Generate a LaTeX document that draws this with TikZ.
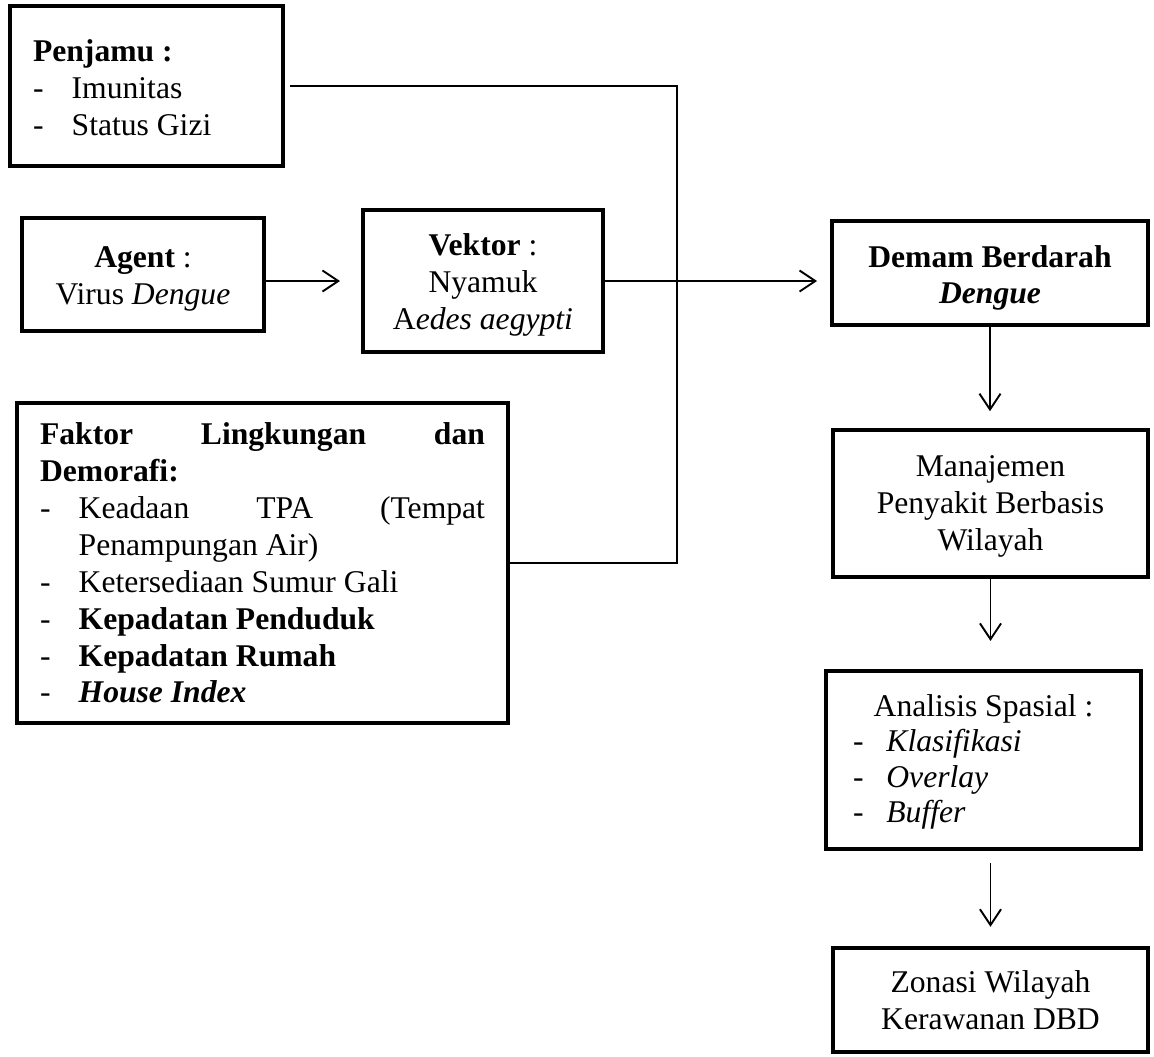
\documentclass[tikz,border=0pt]{standalone}
\usepackage{fontspec}
\setmainfont{Liberation Serif}
\usetikzlibrary{arrows.meta}
\hyphenpenalty=10000
\exhyphenpenalty=10000
\newcommand{\dashitem}[2][22pt]{\par\noindent\hangindent=#1\hangafter=1\makebox[#1][l]{-}#2}

\begin{document}
\begin{tikzpicture}[x=0.02cm, y=-0.02cm,
        box/.style={draw, line width=2.2pt, font=\fontsize{18}{21}\selectfont, inner sep=0pt},
        link/.style={line width=0.9pt},
        flow/.style={line width=1.1pt, -{Straight Barb[length=9pt,width=12pt]}}]
        \useasboundingbox (0,0) rectangle (1154,1056);

        \node[box, minimum width=5.46cm, minimum height=3.2cm, text width=4.54cm, align=flush left, text height=14pt]
            (penjamu) at (146.5,86)
            {\noindent\textbf{Penjamu :}\dashitem{Imunitas}\dashitem{Status Gizi}};
        \node[box, minimum width=4.84cm, minimum height=2.26cm, text width=4.4cm, align=flush center, text height=17.4pt]
            (agent) at (143,274.5) {\textbf{Agent} :\\Virus \textit{Dengue}};
        \node[box, minimum width=4.8cm, minimum height=2.84cm, text width=4.4cm, align=flush center, text height=17.4pt]
            (vektor) at (483,281) {\textbf{Vektor} :\\Nyamuk\\A\textit{edes aegypti}};
        \node[box, minimum width=9.82cm, minimum height=6.4cm, text width=8.9cm, align=justify]
            (faktor) at (262.5,563)
            {\noindent\textbf{Faktor Lingkungan dan Demorafi:}
            \dashitem{Keadaan TPA (Tempat Penampungan Air)}
            \dashitem{Ketersediaan Sumur Gali}
            \dashitem{\textbf{Kepadatan Penduduk}}
            \dashitem{\textbf{Kepadatan Rumah}}
            \dashitem{\textbf{\textit{House Index}}}};

        \node[box, minimum width=6.32cm, minimum height=2.08cm, text width=5.9cm, align=flush center, text height=18pt]
            (demam) at (990,273) {\textbf{Demam Berdarah}\\\textbf{\textit{Dengue}}};
        \node[box, minimum width=6.3cm, minimum height=2.94cm, text width=5.9cm, align=flush center, text height=15.7pt]
            (manajemen) at (990.5,503.5) {Manajemen\\Penyakit Berbasis\\Wilayah};
        \node[box, minimum width=6.3cm, minimum height=3.56cm, text width=5.22cm, align=flush left, text height=14.6pt,
            font=\fontsize{18}{20}\selectfont]
            (analisis) at (983.5,760)
            {\centerline{Analisis Spasial :}\dashitem[19pt]{\textit{Klasifikasi}}\dashitem[19pt]{\textit{Overlay}}\dashitem[19pt]{\textit{Buffer}}};
        \node[box, minimum width=6.3cm, minimum height=2.08cm, text width=5.9cm, align=flush center]
            (zonasi) at (990.5,1000) {Zonasi Wilayah\\Kerawanan DBD};

        \coordinate (bend) at (677,563);
        \draw[link, shorten <=3pt] (penjamu.east) -| (bend) -- (faktor.east);

        \draw[flow, shorten >=12pt] (agent.east |- vektor.west) -- (vektor.west);
        \draw[flow, shorten >=7.4pt] (vektor.east) -- (vektor.east -| demam.west);
        \draw[flow, shorten >=9.6pt] (demam.south) -- (demam.south |- manajemen.north);
        \draw[flow, shorten >=16pt] (manajemen.south) -- (manajemen.south |- analisis.north);
        \draw[flow, shorten <=7pt, shorten >=11pt] (zonasi.north |- analisis.south) -- (zonasi.north);
\end{tikzpicture}
\end{document}
